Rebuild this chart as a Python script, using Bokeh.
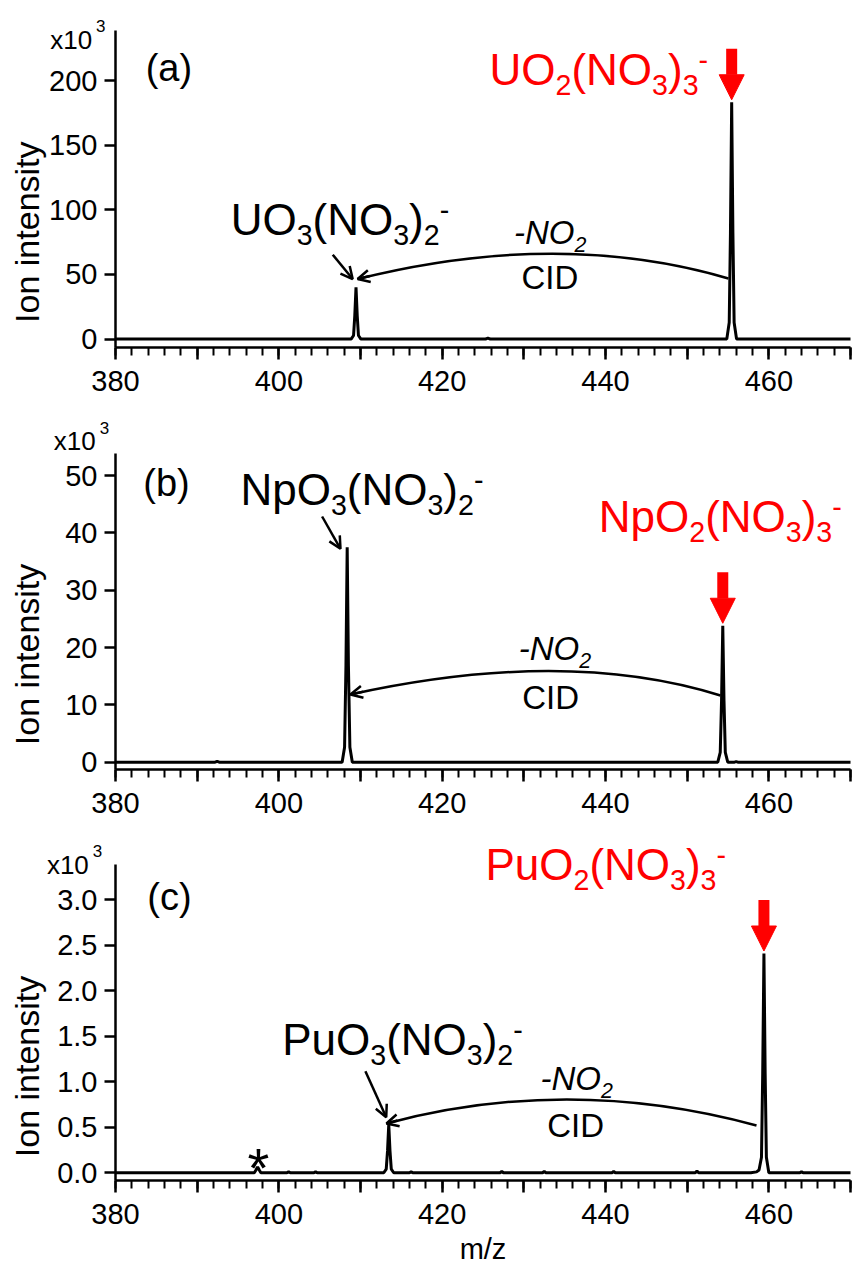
import math
from bokeh.plotting import figure
from bokeh.models import Range1d, FixedTicker, Label, Arrow, NormalHead, OpenHead, NumeralTickFormatter
from bokeh.layouts import column
from bokeh.embed import file_html
from bokeh.resources import INLINE

FONT = "Liberation Sans"
RED = "#ff0000"

# ---------------- data ----------------
# (a) U
mz_u = [380.0, 408.85, 409.15, 409.3, 409.45, 409.6, 409.75, 410.05,
        425.3, 425.6, 425.9,
        454.85, 455.15, 455.3, 455.45, 455.6, 455.75, 456.05, 470.0]
int_u = [0, 0, 2.8, 18.0, 40.0, 18.0, 2.8, 0,
         0, 0.8, 0,
         0, 12.8, 82.0, 183.2, 82.0, 12.8, 0, 0]

# (b) Np
mz_np = [380.0, 392.2, 392.45, 392.7,
         407.75, 408.05, 408.22, 408.37, 408.52, 408.7, 409.0,
         453.75, 454.05, 454.21, 454.36, 454.51, 454.67, 454.97,
         455.8, 456.0, 456.2, 470.0]
int_np = [0, 0, 0.15, 0,
          0, 2.6, 16.9, 37.5, 16.9, 2.6, 0,
          0, 1.7, 10.7, 23.8, 10.7, 1.7, 0,
          0, 0.1, 0, 0]

# (c) Pu
mz_pu = [380.0, 397.0, 397.2, 397.4, 397.6, 397.8,
         401.0, 401.2, 401.4, 404.3, 404.5, 404.7,
         412.85, 413.15, 413.31, 413.46, 413.61, 413.77, 414.07,
         416.0, 416.2, 416.4, 427.1, 427.3, 427.5, 432.3, 432.5, 432.7,
         440.8, 441.0, 441.2, 451.0, 451.2, 451.4,
         457.8, 458.5, 458.8, 459.1, 459.25, 459.4, 459.55, 459.7, 460.0,
         463.8, 464.0, 464.2, 470.0]
int_pu = [0, 0, 0.03, 0.065, 0.03, 0,
          0, 0.012, 0, 0, 0.012, 0,
          0, 0.04, 0.24, 0.53, 0.24, 0.04, 0,
          0, 0.012, 0, 0, 0.015, 0, 0, 0.015, 0,
          0, 0.015, 0, 0, 0.02, 0,
          0, 0.01, 0.03, 0.17, 1.09, 2.41, 1.09, 0.17, 0,
          0, 0.012, 0, 0]

# precursor peak positions and heights
prec_mz = [455.45, 454.36, 459.4]
prec_int = [183.2, 23.8, 2.41]

x_major = [380, 390, 400, 410, 420, 430, 440, 450, 460, 470]
x_minor = list(range(380, 471, 2))
x_label_hide = {390: "", 410: "", 430: "", 450: "", 470: ""}
y_ticks_u = [0, 50, 100, 150, 200]
y_ticks_np = [0, 10, 20, 30, 40, 50]
y_ticks_pu = [0, 0.5, 1.0, 1.5, 2.0, 2.5, 3.0]

# Arial / Liberation Sans advance widths (1/1000 em)
WIDTHS = {'U': 722, 'O': 778, 'N': 722, 'p': 556, 'P': 667, 'u': 556, '(': 333, ')': 333,
          '0': 556, '1': 556, '2': 556, '3': 556, '-': 333, 'C': 722, 'I': 278, 'D': 722, 'x': 500}

W = 852
AX_LEFT = 115          # pixel of the y axis (m/z = 380)
AX_RIGHT = 850         # pixel of m/z = 470
XS = (AX_RIGHT - AX_LEFT) / 90.0
TICK_FS = "29px"
BASE_FIX = 0.30        # baseline correction (em) for alphabetic labels


def tw(s, size):
    return sum(WIDTHS[c] for c in s) / 1000.0 * size


def make_panel(height, top_px, bot_px, y_lo, y_hi, yticks, yfmt=None):
    ys = (bot_px - top_px) / (y_hi - y_lo)
    x0 = 380 - AX_LEFT / XS
    x1 = 380 + (W - AX_LEFT) / XS
    y1 = y_hi + top_px / ys
    y0 = y_lo - (height - bot_px) / ys
    p = figure(width=W, height=height, title=None,
               x_range=Range1d(x0, x1), y_range=Range1d(y0, y1),
               output_backend="svg", toolbar_location=None,
               min_border=0, min_border_left=0, min_border_right=0,
               min_border_top=0, min_border_bottom=0)
    p.outline_line_color = None
    p.xgrid.visible = False
    p.ygrid.visible = False
    p.background_fill_color = "white"
    p.border_fill_color = "white"
    xa = p.xaxis[0]
    xa.fixed_location = y_lo
    xa.bounds = (380, 470)
    xa.ticker = FixedTicker(ticks=x_major, minor_ticks=x_minor)
    xa.major_label_overrides = x_label_hide
    xa.axis_line_width = 2.5
    xa.major_tick_line_width = 2.5
    xa.minor_tick_line_width = 2
    xa.major_tick_out = 12
    xa.major_tick_in = 0
    xa.minor_tick_out = 8
    xa.minor_tick_in = 0
    xa.major_label_standoff = 11
    xa.major_label_text_font = FONT
    xa.major_label_text_font_size = TICK_FS
    xa.major_label_text_color = "black"
    ya = p.yaxis[0]
    ya.fixed_location = 380
    ya.bounds = (y_lo, y_hi)
    ya.ticker = FixedTicker(ticks=yticks, minor_ticks=[])
    if yfmt:
        ya.formatter = NumeralTickFormatter(format=yfmt)
    ya.axis_line_width = 2.5
    ya.major_tick_line_width = 2.5
    ya.major_tick_out = 11
    ya.major_tick_in = 0
    ya.minor_tick_out = 0
    ya.minor_tick_in = 0
    ya.major_label_standoff = 7
    ya.major_label_text_font = FONT
    ya.major_label_text_font_size = TICK_FS
    ya.major_label_text_color = "black"
    return p, ys


def label(p, ys, x, y, text, size, color="black", style="normal", align="left",
          baseline="alphabetic", angle=0.0):
    if baseline == "alphabetic":
        y = y + BASE_FIX * size / ys
    p.add_layout(Label(x=x, y=y, text=text, text_font=FONT, text_font_size=f"{size}px",
                       text_color=color, text_font_style=style, text_align=align,
                       text_baseline=baseline, angle=angle))


def formula(p, x, y, parts, size, ys, color="black", style="normal"):
    xc = x
    for txt, kind in parts:
        fs = size if kind == "n" else size * 0.65
        if kind == "n":
            yy = y
        elif kind == "sub":
            yy = y - 0.25 * size / ys
        else:
            yy = y + 0.31 * size / ys
        label(p, ys, xc, yy, txt, round(fs, 1), color, style)
        xc += tw(txt, fs) / XS


def yexp(p, x, y, ys):
    label(p, ys, x, y, "x10", 26)
    label(p, ys, x + (tw("x10", 26) + 4) / XS, y + 16 / ys, "3", 17)


def open_arrow(p, xs_, ys_, xe, ye):
    p.add_layout(Arrow(end=OpenHead(size=12, line_width=2.5, line_color="black"),
                       x_start=xs_, y_start=ys_, x_end=xe, y_end=ye,
                       line_width=2.5, line_color="black"))


def arc(p, P0, C, P2):
    p.quadratic(x0=[P2[0]], y0=[P2[1]], x1=[P0[0]], y1=[P0[1]], cx=[C[0]], cy=[C[1]],
                line_width=2.5, line_color="black")
    t = 0.06
    sx = P0[0] + t * (C[0] - P0[0])
    sy = P0[1] + t * (C[1] - P0[1])
    open_arrow(p, sx, sy, P0[0], P0[1])


def red_arrow(p, x, peak, ys):
    tip = peak + 2.5 / ys
    top = tip + 51 / ys
    p.add_layout(Arrow(end=NormalHead(size=25, fill_color=RED, line_color=RED, line_width=1),
                       x_start=x, y_start=top, x_end=x, y_end=tip,
                       line_color=RED, line_width=11))


def loss_text(p, x_no2, y_no2, x_cid, y_cid, ys):
    formula(p, x_no2, y_no2, [("-NO", "n"), ("2", "sub")], 33, ys, style="italic")
    label(p, ys, x_cid, y_cid, "CID", 33)


def ylab(p, ys, y):
    label(p, ys, 369.2, y, "Ion intensity", YLAB_FS, align="center", baseline="middle",
          angle=math.pi / 2)


ION_SIZE = 44
PANEL_FS = 38
YLAB_FS = 34

# ---------------- panel (a) ----------------
pa, ysa = make_panel(415, 30, 347, -6.5, 238.7, y_ticks_u)
pa.line(mz_u, int_u, line_width=3, line_color="black")
label(pa, ysa, 383.7, 200.7, "(a)", PANEL_FS)
formula(pa, 394.1, 82.5, [("UO", "n"), ("3", "sub"), ("(NO", "n"), ("3", "sub"), (")", "n"),
                          ("2", "sub"), ("-", "sup")], ION_SIZE, ysa)
formula(pa, 425.8, 198.7, [("UO", "n"), ("2", "sub"), ("(NO", "n"), ("3", "sub"), (")", "n"),
                           ("3", "sub"), ("-", "sup")], ION_SIZE, ysa, color=RED)
loss_text(pa, 428.8, 74.8, 429.7, 40.0, ysa)
arc(pa, (409.65, 46.45), (434.35, 85.4), (455.05, 46.9))
open_arrow(pa, 406.6, 65.3, 409.04, 46.45)
red_arrow(pa, prec_mz[0], prec_int[0], ysa)
yexp(pa, 372.0, 225.5, ysa)
ylab(pa, ysa, 82.7)

# ---------------- panel (b) ----------------
pb, ysb = make_panel(419, 38, 354.3, -1.33, 53.85, y_ticks_np)
pb.line(mz_np, int_np, line_width=3, line_color="black")
label(pb, ysb, 383.4, 46.7, "(b)", PANEL_FS)
formula(pb, 395.3, 45.35, [("NpO", "n"), ("3", "sub"), ("(NO", "n"), ("3", "sub"), (")", "n"),
                           ("2", "sub"), ("-", "sup")], ION_SIZE, ysb)
formula(pb, 439.18, 40.6, [("NpO", "n"), ("2", "sub"), ("(NO", "n"), ("3", "sub"), (")", "n"),
                           ("3", "sub"), ("-", "sup")], ION_SIZE, ysb, color=RED)
loss_text(pb, 429.38, 18.04, 429.8, 9.59, ysb)
arc(pb, (408.77, 11.81), (435.1, 20.08), (454.08, 11.63))
open_arrow(pb, 405.3, 42.86, 407.55, 37.22)
red_arrow(pb, prec_mz[1], prec_int[1], ysb)
yexp(pb, 372.45, 54.7, ysb)
ylab(pb, ysb, 18.8)

# ---------------- panel (c) ----------------
pc, ysc = make_panel(432, 30.3, 346, -0.085, 3.385, y_ticks_pu, "0.0")
pc.line(mz_pu, int_pu, line_width=3, line_color="black")
label(pc, ysc, 383.9, 2.905, "(c)", PANEL_FS)
formula(pc, 400.41, 1.322, [("PuO", "n"), ("3", "sub"), ("(NO", "n"), ("3", "sub"), (")", "n"),
                            ("2", "sub"), ("-", "sup")], ION_SIZE, ysc)
formula(pc, 425.3, 3.245, [("PuO", "n"), ("2", "sub"), ("(NO", "n"), ("3", "sub"), (")", "n"),
                           ("3", "sub"), ("-", "sup")], ION_SIZE, ysc, color=RED)
loss_text(pc, 432.04, 0.923, 432.86, 0.41, ysc)
arc(pc, (413.18, 0.542), (435.59, 1.080), (458.49, 0.520))
open_arrow(pc, 410.6, 1.117, 413.15, 0.611)
red_arrow(pc, prec_mz[2], prec_int[2], ysc)
label(pc, ysc, 397.5, -0.125, "*", 56, align="center")
yexp(pc, 371.6, 3.30, ysc)
ylab(pc, ysc, 1.168)
label(pc, ysc, 425.0, -0.93, "m/z", 29, align="center")

layout = column(pa, pb, pc, spacing=0)
open("out.html", "w").write(file_html(layout, INLINE))
